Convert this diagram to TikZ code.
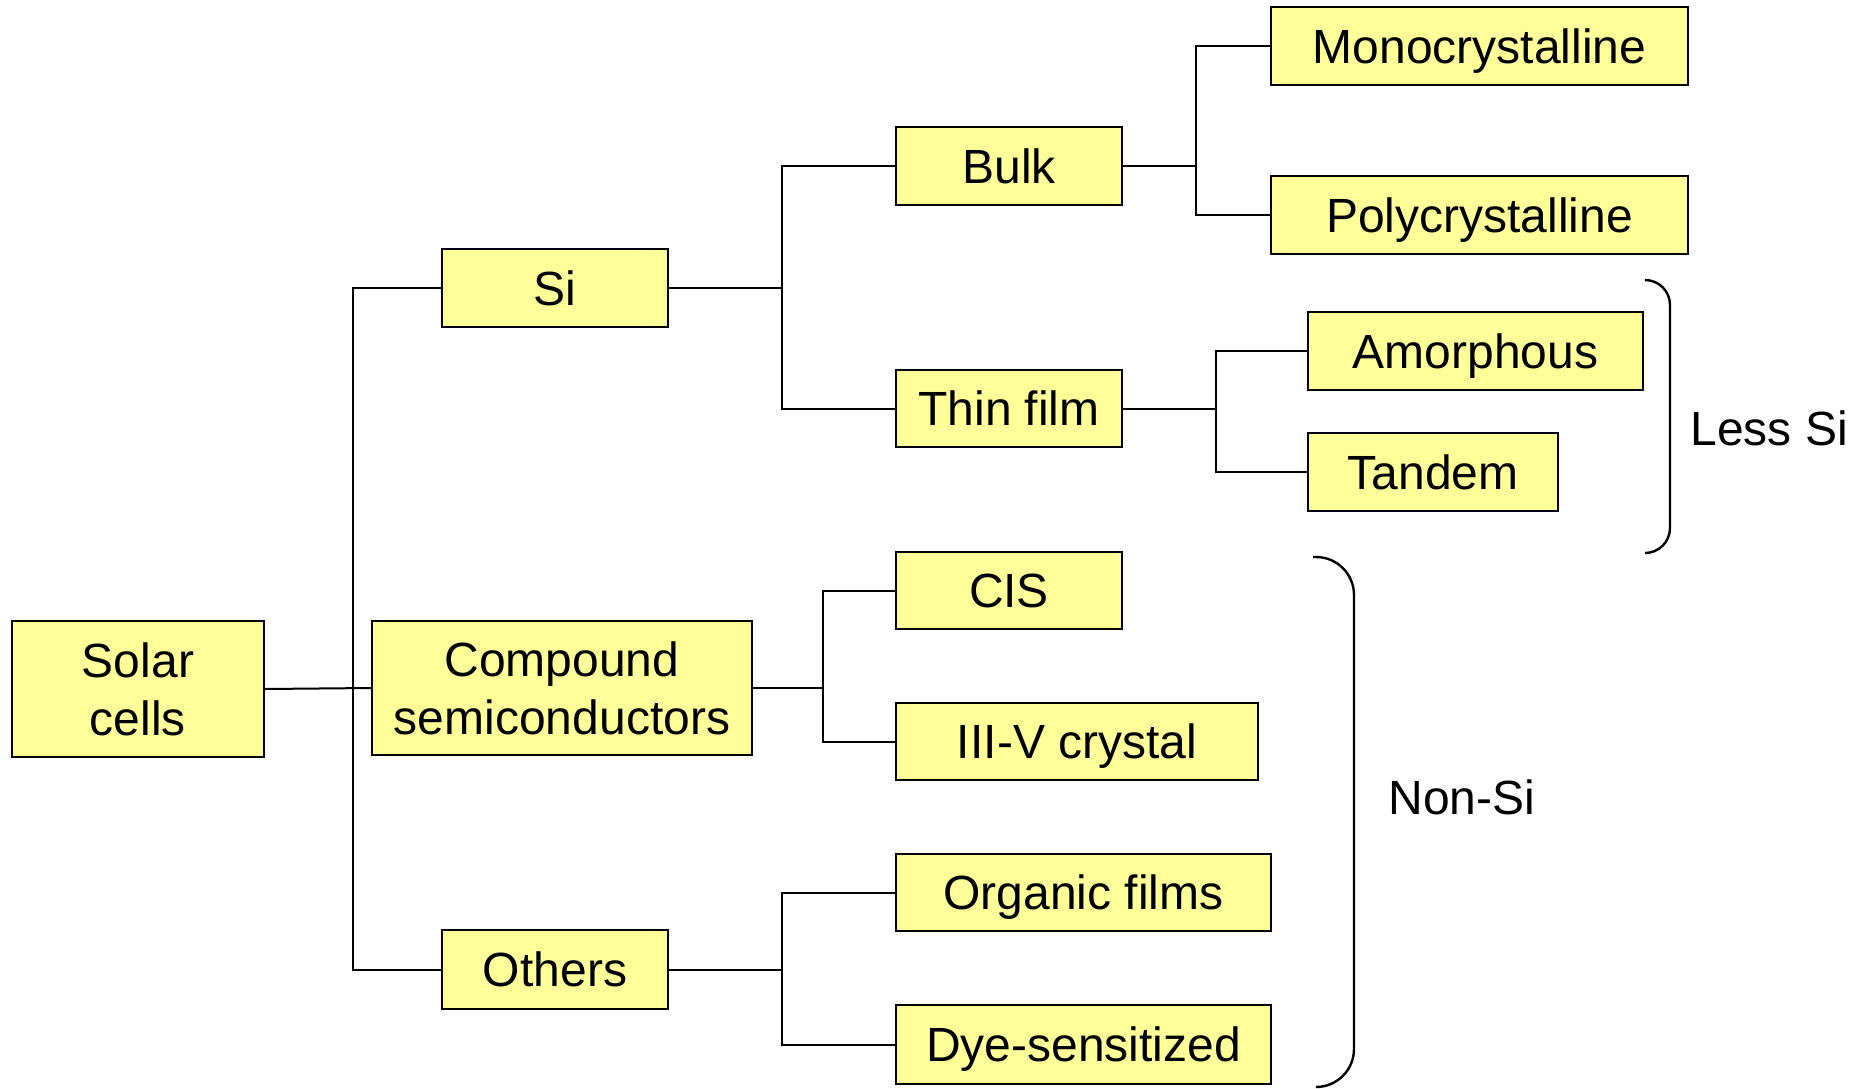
\documentclass[tikz,border=0pt]{standalone}
\usepackage{fontspec}
\setmainfont{Liberation Sans}
\definecolor{boxfill}{HTML}{FFFF99}
\begin{document}
\begin{tikzpicture}[x=0.5pt,y=-0.5pt,
  box/.style={draw=black, line width=1pt, fill=boxfill, inner sep=0pt,
    align=center, font=\fontsize{24}{29}\selectfont},
  onebox/.style={box, text height=17.2pt, text depth=0pt},
  link/.style={draw=black, line width=1pt},
  brace/.style={draw=black, line width=1.2pt},
  note/.style={anchor=base west, inner sep=0pt, font=\fontsize{24}{29}\selectfont}]
\useasboundingbox (0,0) rectangle (1865,1088);

% level 0
\node[box, minimum width=126pt, minimum height=68pt] (solar) at (138,689) {Solar\\cells};

% level 1
\node[onebox, minimum width=113pt, minimum height=39pt]   (si)     at (555,288)   {Si};
\node[box,    minimum width=190pt, minimum height=67pt]   (comp)   at (562,688)   {Compound\\semiconductors};
\node[onebox, minimum width=113pt, minimum height=39.5pt] (others) at (555,969.5) {Others};

% level 2
\node[onebox, minimum width=113pt, minimum height=39pt]     (bulk) at (1009,166)    {Bulk};
\node[onebox, minimum width=113pt, minimum height=38.5pt]   (thin) at (1009,408.5)  {Thin film};
\node[onebox, minimum width=113pt, minimum height=38.5pt]   (cis)  at (1009,590.5)  {CIS};
\node[onebox, minimum width=181pt, minimum height=38.5pt]   (iiiv) at (1077,741.5)  {III-V crystal};
\node[onebox, minimum width=187.5pt, minimum height=38.5pt] (org)  at (1083.5,892.5) {Organic films};
\node[onebox, minimum width=187.5pt, minimum height=39.5pt] (dye)  at (1083.5,1044.5) {Dye-sensitized};

% level 3
\node[onebox, minimum width=208.5pt, minimum height=39pt] (mono) at (1479.5,46)  {Monocrystalline};
\node[onebox, minimum width=208.5pt, minimum height=39pt] (poly) at (1479.5,215) {Polycrystalline};
\node[onebox, minimum width=167.5pt, minimum height=39pt] (amor) at (1475.5,351) {Amorphous};
\node[onebox, minimum width=125pt,   minimum height=39pt] (tand) at (1433,472)   {Tandem};

% junction points of the tree
\coordinate (j0) at (353,689);
\coordinate (jsi) at (782,288);
\coordinate (jbulk) at (1196,166);
\coordinate (jthin) at (1216,408.5);
\coordinate (jcomp) at (823,688);
\coordinate (joth) at (782,969.5);

% connectors
\draw[link] (solar.east) -- (comp.west);
\draw[link] (si.west) -| (j0) |- (others.west);

\draw[link] (si.east) -- (jsi);
\draw[link] (bulk.west) -| (jsi) |- (thin.west);

\draw[link] (bulk.east) -- (jbulk);
\draw[link] (mono.west) -| (jbulk) |- (poly.west);

\draw[link] (thin.east) -- (jthin);
\draw[link] (amor.west) -| (jthin) |- (tand.west);

\draw[link] (comp.east) -- (jcomp);
\draw[link] (cis.west) -| (jcomp) |- (iiiv.west);

\draw[link] (others.east) -- (joth);
\draw[link] (org.west) -| (joth) |- (dye.west);

% grouping brackets
\coordinate (lsTop) at (1645,280);
\coordinate (lsBot) at (1645,553);
\draw[brace, rounded corners=12.5pt] (lsTop) -| (1670,553) -- (lsBot);
\node[note] (lessSi) at (1690,445) {Less Si};

\coordinate (nsTop) at (1313,557);
\coordinate (nsBot) at (1318,1087);
\draw[brace, rounded corners=19pt] (nsTop) -| (1354,1087) -- (nsBot);
\node[note] (nonSi) at (1388,814) {Non-Si};
\end{tikzpicture}
\end{document}
